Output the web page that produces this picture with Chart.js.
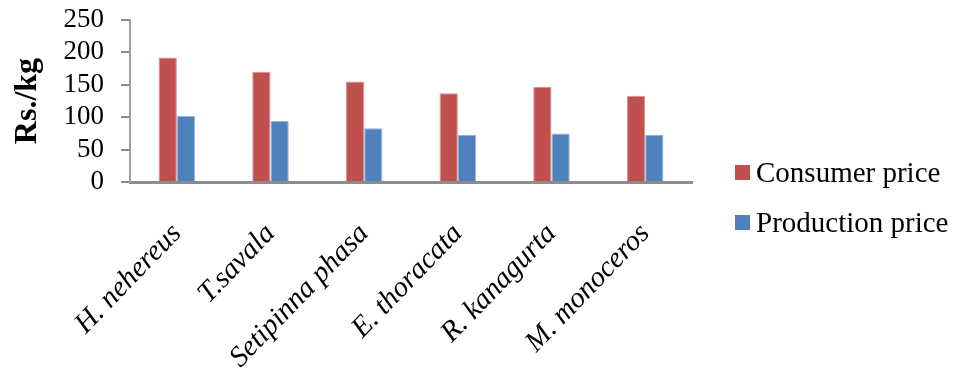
<!DOCTYPE html>
<html lang="en">
<head>
    <meta charset="UTF-8">
    <title>Consumer and production price</title>
    <script src="https://cdn.jsdelivr.net/npm/chart.js"></script>
    <style>
        body { margin: 0; background: #fff; }
        .wrap { position: relative; width: 956px; height: 370px; }
        .legend { position: absolute; left: 735px; top: 147px; font-family: "Liberation Serif", serif; font-size: 29px; color: #000; }
        .legend div { height: 50px; line-height: 50px; white-space: nowrap; }
        .legend span { display: inline-block; width: 15px; height: 15px; margin-right: 6px; vertical-align: 2px; }
    </style>
</head>
<body>
    <div class="wrap">
        <canvas id="priceChart" width="956" height="370"></canvas>
        <div class="legend" id="legend"></div>
    </div>

    <script>
        const species = ['H. nehereus', 'T.savala', 'Setipinna phasa', 'E. thoracata', 'R. kanagurta', 'M. monoceros'];
        const consumerPrice = [192, 170, 155, 137, 147, 133];
        const productionPrice = [102, 94, 83, 73, 75, 73];
        const seriesNames = ['Consumer price', 'Production price'];
        const seriesColors = ['#C0504D', '#4F81BD'];
        const yTicks = [0, 50, 100, 150, 200, 250];

        const serif = 'Liberation Serif';

        const ctx = document.getElementById('priceChart').getContext('2d');
        new Chart(ctx, {
            type: 'bar',
            data: {
                labels: species,
                datasets: [
                    { label: seriesNames[0], data: consumerPrice, backgroundColor: seriesColors[0], borderColor: '#D9908E', borderWidth: 1 },
                    { label: seriesNames[1], data: productionPrice, backgroundColor: seriesColors[1], borderColor: '#95B3D7', borderWidth: 1 }
                ]
            },
            options: {
                responsive: false,
                animation: false,
                layout: { padding: { left: 5, top: 20, right: 264, bottom: 0 } },
                datasets: { bar: { categoryPercentage: 0.39, barPercentage: 1 } },
                plugins: { legend: { display: false }, tooltip: { enabled: false } },
                scales: {
                    x: {
                        grid: { display: false },
                        border: { color: '#8c8c8c', width: 3 },
                        ticks: {
                            autoSkip: false,
                            minRotation: 46,
                            maxRotation: 46,
                            padding: 27,
                            labelOffset: 0,
                            color: '#000',
                            font: { family: serif, size: 29, style: 'italic' }
                        },
                        afterFit: (s) => { s.height = 188; s.paddingLeft = 0; s.paddingRight = 0; }
                    },
                    y: {
                        min: 0,
                        max: 250,
                        afterBuildTicks: (s) => { s.ticks = yTicks.map(v => ({ value: v })); },
                        grid: { drawOnChartArea: false, drawTicks: true, tickLength: 9, color: '#8c8c8c', lineWidth: 2 },
                        border: { color: '#a0a0a0', width: 2 },
                        ticks: { autoSkip: false, padding: 17, color: '#000', font: { family: serif, size: 27 } },
                        title: { display: true, text: 'Rs./kg', color: '#000', font: { family: serif, size: 32, weight: 'bold' } },
                        afterFit: (s) => { s.width = 125; s.paddingTop = 0; s.paddingBottom = 0; }
                    }
                }
            }
        });

        const legend = document.getElementById('legend');
        seriesNames.forEach((name, i) => {
            const row = document.createElement('div');
            row.innerHTML = '<span style="background:' + seriesColors[i] + '"></span>' + name;
            legend.appendChild(row);
        });
    </script>
</body>
</html>
